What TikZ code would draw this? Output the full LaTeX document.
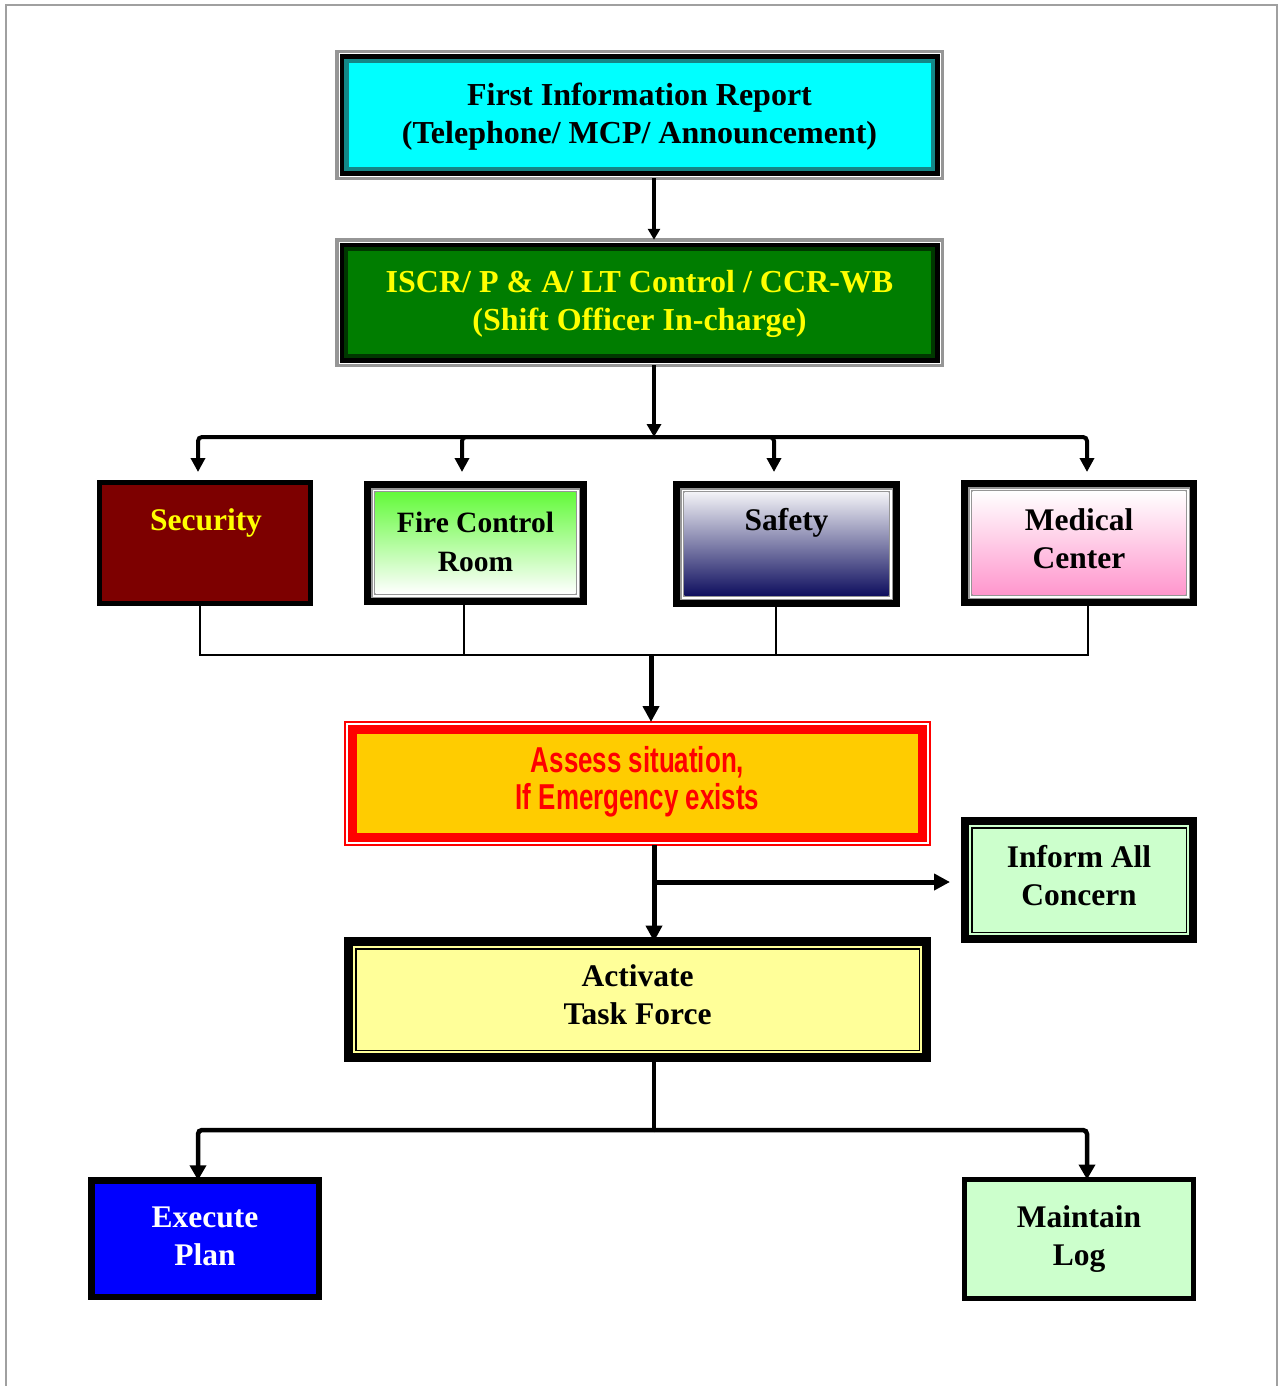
\documentclass[tikz,border=0pt]{standalone}
\usepackage{fontspec}
\setmainfont{Liberation Serif}
\newfontfamily\arnarrow[FakeStretch=0.72]{Liberation Sans}
\usetikzlibrary{arrows.meta,calc}
\definecolor{cyanF}{RGB}{0,255,255}
\definecolor{tealB}{RGB}{20,135,135}
\definecolor{grnF}{RGB}{0,125,0}
\definecolor{grnB}{RGB}{0,55,0}
\definecolor{maroonF}{RGB}{125,0,0}
\definecolor{ylw}{RGB}{255,255,0}
\definecolor{goldF}{RGB}{255,204,0}
\definecolor{redB}{RGB}{255,0,0}
\definecolor{ltgreen}{RGB}{204,255,204}
\definecolor{ltyellow}{RGB}{255,255,153}
\definecolor{blueF}{RGB}{0,0,255}
\definecolor{frameG}{RGB}{160,160,160}
\definecolor{grayL}{RGB}{150,150,150}
\definecolor{fireTop}{RGB}{100,250,60}
\definecolor{fireMid}{RGB}{195,252,185}
\definecolor{safTop}{RGB}{242,242,246}
\definecolor{safMid}{RGB}{150,150,175}
\definecolor{safBot}{RGB}{15,15,95}
\definecolor{medMid}{RGB}{255,200,228}
\definecolor{medBot}{RGB}{255,150,205}
\newcommand{\bfsz}{\fontsize{15.75}{19}\selectfont\bfseries}
\newcommand{\bfszt}{\fontsize{16}{19}\selectfont\bfseries}
\newcommand{\bfszs}{\fontsize{14.75}{19.5}\selectfont\bfseries}
\newcommand{\asz}{\fontsize{18}{18.5}\selectfont\arnarrow\bfseries}
\tikzset{
  insetr/.style={insert path={($(path picture bounding box.north west)+(#1,#1)$) rectangle ($(path picture bounding box.south east)+(-#1,-#1)$)}},
  boxbase/.style={rectangle, inner sep=0pt, outer sep=0pt, align=center, font=\bfsz},
  topbox/.style={boxbase, draw=grayL, line width=1.75pt, minimum width=302.75pt, font=\bfszt},
  rowbox/.style={boxbase, draw=black, line width=3.5pt},
  lnA/.style={line width=1.75pt, -{Triangle[length=5.5pt,width=6pt]}},
  lnB/.style={line width=2pt, -{Triangle[length=6.5pt,width=7pt]}},
  lnBus/.style={line width=2pt, rounded corners=2pt, -{Triangle[length=7pt,width=7pt]}},
  lnThin/.style={line width=1pt},
  lnThick/.style={line width=2.5pt, -{Triangle[length=8pt,width=8pt]}},
  lnC/.style={line width=2.25pt},
  lnCa/.style={line width=2.25pt, rounded corners=2pt, -{Triangle[length=7.5pt,width=8pt]}},
  txt/.style={inner sep=0pt, outer sep=0pt, align=center, font=\bfsz}
}
\begin{document}
\begin{tikzpicture}[x=0.5pt,y=-0.5pt]
\useasboundingbox (0,0) rectangle (1280,1386);
\fill[white] (0,0) rectangle (1280,1386);
% page frame
\draw[frameG, line width=1.25pt] (6,1386) -- (6,5) -- (1277,5) -- (1277,1386);

% top boxes
\node[topbox, minimum height=63.25pt,
  path picture={\fill[white, insetr=1.75]; \fill[black, insetr=2.75]; \fill[tealB, insetr=7.25]; \fill[cyanF, insetr=11.75];}]
  (fir) at (639.5,115) {};
\node[txt, font=\bfszt] (firT) at (639.5,116.5) {First Information Report\\(Telephone/ MCP/ Announcement)};
\node[topbox, minimum height=62.75pt,
  path picture={\fill[white, insetr=1.75]; \fill[black, insetr=2.75]; \fill[grnB, insetr=7.25]; \fill[grnF, insetr=11.25];}]
  (iscr) at (639.5,302.5) {};
\node[txt, font=\bfszt, text=ylw] (iscrT) at (639.5,304) {ISCR/ P \& A/ LT Control / CCR-WB\\(Shift Officer In-charge)};

% row of four
\node[boxbase, draw=black, line width=2.5pt, fill=maroonF, minimum width=105.5pt, minimum height=60.5pt]
  (sec) at (205,543) {};
\node[txt, text=ylw] (secT) at (206,522.5) {Security};
\node[rowbox, minimum width=108pt, minimum height=58.5pt, font=\bfszs,
  path picture={\fill[grayL, insetr=3.5]; \fill[white, insetr=5]; \fill[grayL, insetr=6.5];
    \shade[top color=fireTop, middle color=fireMid, bottom color=white, insetr=8];}]
  (fire) at (475.5,543) {};
\node[txt, font=\bfszs] (fireT) at (475.5,542) {Fire Control\\Room};
\node[rowbox, minimum width=110pt, minimum height=59.5pt,
  path picture={\fill[grayL, insetr=3.5]; \fill[white, insetr=5]; \fill[grayL, insetr=6.5];
    \shade[top color=safTop, middle color=safMid, bottom color=safBot, insetr=8];}]
  (safety) at (786.5,544) {};
\node[txt] (safT) at (786.5,522.5) {Safety};
\node[rowbox, minimum width=114.5pt, minimum height=59.5pt,
  path picture={\fill[grayL, insetr=3.5]; \fill[white, insetr=5]; \fill[grayL, insetr=6.5];
    \shade[top color=white, middle color=medMid, bottom color=medBot, insetr=8];}]
  (medical) at (1079,543) {};
\node[txt] (medT) at (1079,539) {Medical\\Center};

% assess
\node[boxbase, draw=redB, line width=1pt, minimum width=292.5pt, minimum height=61.5pt,
  font=\asz, text=redB,
  path picture={\fill[white, insetr=1]; \fill[redB, insetr=3]; \fill[goldF, insetr=12];}]
  (assess) at (637.5,783.5) {};
\node[txt, font=\asz, text=redB] (assT) at (637.5,781.5) {Assess situation,\\If Emergency exists};

% inform
\node[boxbase, draw=black, line width=4pt, minimum width=114pt, minimum height=59pt,
  path picture={\fill[ltgreen, insetr=4]; \fill[black, insetr=6]; \fill[ltgreen, insetr=7.5];}]
  (inform) at (1079,880) {};
\node[txt] (infT) at (1079,876) {Inform All\\Concern};

% activate
\node[boxbase, draw=black, line width=4.5pt, minimum width=289pt, minimum height=58pt,
  path picture={\fill[ltyellow, insetr=4.5]; \fill[black, insetr=6.5]; \fill[ltyellow, insetr=8];}]
  (activate) at (637.5,999.5) {};
\node[txt] (actT) at (637.5,995) {Activate\\Task Force};

% bottom
\node[boxbase, draw=black, line width=3.25pt, fill=blueF, minimum width=113.75pt, minimum height=58.25pt]
  (execute) at (205,1238.5) {};
\node[txt, text=white] (exeT) at (205,1236.5) {Execute\\Plan};
\node[boxbase, draw=black, line width=2.5pt, fill=ltgreen, minimum width=114.5pt, minimum height=59.5pt]
  (maintain) at (1079,1239) {Maintain\\Log};

% connectors
\coordinate (tx) at (654,0);
\draw[lnA] (fir.south -| tx) -- (iscr.north -| tx);
\coordinate (bus) at (654,437);
\draw[lnB] (iscr.south -| tx) -- (bus);
\draw[lnBus] (bus) -| ([xshift=-3.5pt,yshift=5.25pt]sec.north);
\draw[lnBus] (bus) -| ([xshift=-6.75pt,yshift=6.25pt]fire.north);
\draw[lnBus] (bus) -| ([xshift=-6.25pt,yshift=6.25pt]safety.north);
\draw[lnBus] (bus) -| ([xshift=4pt,yshift=5.75pt]medical.north);

\coordinate (j) at (651,655);
\draw[lnThin] ([xshift=-2.5pt]sec.south) |- (j);
\draw[lnThin] ([xshift=-5.75pt]fire.south) |- (j);
\draw[lnThin] ([xshift=-5.25pt]safety.south) |- (j);
\draw[lnThin] ([xshift=4.5pt]medical.south) |- (j);
\draw[lnThick] (j) -- (assess.north -| j);

\draw[lnThick] (assess.south -| tx) -- (activate.north -| tx);
\coordinate (br) at (654,882);
\draw[lnThick] (br) -- ([xshift=-7.5pt]inform.west |- br);

\coordinate (bus2) at (654,1130);
\draw[lnC] (activate.south -| tx) -- (bus2);
\draw[lnCa] (bus2) -| ([xshift=-3.5pt]execute.north);
\draw[lnCa] (bus2) -| ([xshift=4pt]maintain.north);
\end{tikzpicture}
\end{document}
